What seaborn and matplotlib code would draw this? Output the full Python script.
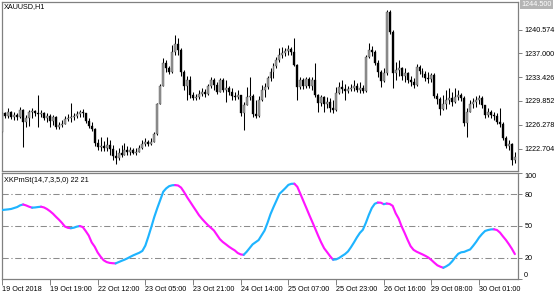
import numpy as np
import pandas as pd
import matplotlib
matplotlib.use("Agg")
import matplotlib.pyplot as plt
import seaborn as sns

# ---------------- data ----------------
symbol_title = "XAUUSD,H1"
indicator_title = "XKPmSt(14,7,3,5,0) 22 21"

open_ = [
1225.20,1228.05,1227.60,1228.20,1227.45,1227.75,1227.45,1228.50,1226.70,1227.30,
1228.20,1228.35,1228.05,1227.90,1228.05,1227.30,1227.60,1226.85,1227.45,1225.95,
1226.25,1226.40,1227.15,1227.30,1227.45,1227.60,1227.90,1228.20,1228.05,1226.85,
1226.10,1225.65,1223.55,1222.95,1223.10,1222.80,1223.25,1222.65,1221.60,1221.30,
1222.05,1221.75,1222.50,1222.20,1222.50,1222.05,1222.20,1222.80,1223.40,1223.70,
1223.40,1223.70,1224.90,1229.40,1232.10,1235.55,1234.80,1234.20,1237.20,1238.40,
1237.50,1234.20,1232.10,1233.00,1230.75,1230.30,1230.45,1230.90,1231.20,1230.90,
1232.10,1233.00,1232.25,1231.20,1233.00,1231.50,1231.80,1231.20,1230.60,1230.45,
1230.75,1228.05,1229.25,1230.45,1230.60,1227.90,1227.60,1230.00,1231.50,1231.95,
1233.30,1234.20,1235.10,1236.00,1236.75,1237.05,1237.35,1237.65,1237.20,1235.25,
1231.95,1233.00,1232.10,1233.15,1232.10,1233.00,1230.75,1229.55,1230.45,1229.40,
1229.70,1228.80,1228.50,1231.05,1231.95,1231.65,1231.35,1231.65,1231.80,1232.10,
1231.50,1231.80,1231.35,1236.45,1237.50,1237.20,1235.55,1234.20,1232.85,1234.05,
1243.20,1240.20,1234.05,1234.50,1234.80,1233.60,1234.05,1233.00,1232.70,1232.25,
1234.95,1234.35,1233.90,1233.30,1233.15,1233.75,1230.60,1230.15,1228.65,1229.40,
1230.00,1230.30,1229.70,1230.45,1230.75,1230.30,1226.55,1228.20,1229.40,1229.70,
1230.00,1230.30,1229.25,1227.75,1228.20,1227.75,1227.60,1226.70,1226.40,1224.30,
1223.10,1223.40,1221.00]

high = [
1228.80,1228.20,1228.80,1228.35,1228.20,1228.05,1228.95,1228.65,1227.75,1228.50,
1228.80,1228.50,1230.75,1228.50,1228.20,1228.05,1227.90,1227.75,1227.60,1226.70,
1227.00,1227.60,1227.90,1229.55,1228.05,1228.35,1228.50,1228.65,1228.05,1227.30,
1226.70,1225.80,1224.15,1224.45,1223.85,1224.45,1224.00,1223.25,1222.50,1222.80,
1223.25,1223.55,1223.10,1222.95,1222.80,1222.80,1223.25,1224.00,1224.30,1224.00,
1224.30,1225.20,1229.55,1232.40,1236.30,1236.00,1235.10,1238.25,1239.75,1239.30,
1237.80,1234.50,1233.60,1233.60,1231.20,1230.90,1231.50,1231.80,1231.65,1232.40,
1233.45,1233.30,1232.70,1233.30,1233.30,1233.00,1232.10,1231.80,1231.20,1231.50,
1230.75,1229.70,1231.95,1233.45,1230.90,1230.00,1230.60,1232.25,1232.55,1233.60,
1234.80,1235.55,1236.45,1237.80,1237.95,1237.80,1238.25,1237.95,1239.30,1235.40,
1233.45,1233.30,1233.45,1233.45,1233.45,1235.55,1230.90,1230.75,1230.60,1230.45,
1230.30,1230.00,1231.95,1232.70,1233.00,1232.40,1232.10,1232.40,1233.00,1232.55,
1232.70,1232.25,1236.75,1238.55,1238.10,1237.50,1236.00,1234.50,1234.80,1243.50,
1243.50,1240.50,1235.70,1236.00,1234.95,1234.80,1234.20,1233.60,1233.30,1235.40,
1235.25,1234.80,1234.35,1234.20,1234.05,1234.05,1231.05,1230.45,1230.75,1231.50,
1231.80,1231.20,1231.80,1231.50,1231.05,1230.60,1228.80,1230.00,1230.30,1230.60,
1230.75,1230.60,1229.25,1228.80,1228.50,1228.20,1228.05,1228.80,1226.70,1224.60,
1224.00,1223.55,1222.20]

low = [
1225.05,1227.30,1227.30,1227.15,1227.00,1227.00,1227.30,1222.95,1225.95,1226.10,
1227.30,1227.60,1225.95,1227.45,1227.00,1226.70,1225.95,1226.25,1225.65,1225.65,
1225.95,1226.40,1226.85,1226.70,1227.00,1227.30,1227.45,1227.45,1226.55,1225.80,
1225.35,1223.10,1222.50,1222.35,1222.35,1222.35,1221.75,1221.00,1220.40,1221.00,
1221.45,1221.75,1221.75,1221.75,1221.90,1221.75,1222.20,1222.65,1223.10,1223.10,
1223.25,1223.70,1224.75,1229.40,1232.10,1234.20,1233.90,1234.05,1236.75,1236.75,
1233.60,1231.50,1230.00,1230.30,1230.00,1230.00,1230.15,1230.60,1230.45,1230.75,
1231.80,1231.50,1230.90,1231.20,1231.20,1229.70,1230.75,1230.00,1230.00,1230.15,
1227.60,1225.50,1229.25,1230.00,1227.45,1227.30,1227.45,1229.85,1230.45,1231.65,
1232.85,1233.30,1234.80,1235.70,1236.30,1236.60,1236.75,1236.75,1235.10,1230.00,
1231.65,1231.65,1231.80,1231.80,1231.50,1230.45,1228.20,1229.10,1228.20,1228.80,
1228.20,1228.05,1228.35,1230.90,1231.05,1230.00,1231.05,1231.35,1231.35,1231.20,
1231.05,1231.05,1231.20,1236.30,1236.60,1235.25,1233.45,1231.95,1232.70,1233.75,
1239.90,1231.80,1233.00,1233.60,1233.00,1232.70,1232.55,1232.10,1231.80,1232.10,
1233.90,1233.45,1232.85,1232.55,1232.70,1230.30,1229.40,1227.75,1228.50,1228.65,
1229.40,1229.10,1229.55,1230.00,1229.85,1226.10,1224.45,1228.20,1228.80,1228.95,
1229.40,1228.80,1227.30,1227.45,1227.30,1227.00,1226.40,1225.95,1224.00,1222.80,
1222.50,1220.25,1220.55]

close = [
1228.05,1227.60,1228.20,1227.45,1227.75,1227.45,1228.50,1226.70,1227.30,1228.20,
1228.35,1228.05,1227.90,1228.05,1227.30,1227.60,1226.85,1227.45,1225.95,1226.25,
1226.40,1227.15,1227.30,1227.45,1227.60,1227.90,1228.20,1228.05,1226.85,1226.10,
1225.65,1223.55,1222.95,1223.10,1222.80,1223.25,1222.65,1221.60,1221.30,1222.05,
1221.75,1222.50,1222.20,1222.50,1222.05,1222.20,1222.80,1223.40,1223.70,1223.40,
1223.70,1224.90,1229.40,1232.10,1235.55,1234.80,1234.20,1237.20,1238.40,1237.50,
1234.20,1232.10,1233.00,1230.75,1230.30,1230.45,1230.90,1231.20,1230.90,1232.10,
1233.00,1232.25,1231.20,1233.00,1231.50,1231.80,1231.20,1230.60,1230.45,1230.75,
1228.05,1229.25,1230.45,1230.60,1227.90,1227.60,1230.00,1231.50,1231.95,1233.30,
1234.20,1235.10,1236.00,1236.75,1237.05,1237.35,1237.65,1237.20,1235.25,1231.95,
1233.00,1232.10,1233.15,1232.10,1233.00,1230.75,1229.55,1230.45,1229.40,1229.70,
1228.80,1228.50,1231.05,1231.95,1231.65,1231.35,1231.65,1231.80,1232.10,1231.50,
1231.80,1231.35,1236.45,1237.50,1237.20,1235.55,1234.20,1232.85,1234.05,1243.20,
1240.20,1234.05,1234.50,1234.80,1233.60,1234.05,1233.00,1232.70,1232.25,1234.95,
1234.35,1233.90,1233.30,1233.15,1233.75,1230.60,1230.15,1228.65,1229.40,1230.00,
1230.30,1229.70,1230.45,1230.75,1230.30,1226.55,1228.20,1229.40,1229.70,1230.00,
1230.30,1229.25,1227.75,1228.20,1227.75,1227.60,1226.70,1226.40,1224.30,1223.10,
1223.40,1221.00,1221.45]

indicator = [
65.1,65.4,65.7,66.1,67.0,67.9,69.5,70.3,69.4,68.2,
67.3,67.5,67.9,68.2,67.5,66.0,64.0,61.6,58.7,56.0,
53.0,49.5,48.3,47.9,48.4,49.4,50.0,49.0,45.2,41.0,
34.5,30.5,25.0,21.0,17.7,16.0,15.2,14.9,14.7,15.9,
17.1,18.2,19.5,21.0,22.4,23.6,24.8,26.5,31.5,39.9,
49.0,58.5,66.8,74.5,82.3,85.5,87.6,88.4,88.6,88.2,
86.2,82.0,77.2,73.0,68.7,64.5,60.2,56.8,53.7,50.8,
48.3,45.8,41.7,37.6,34.9,32.8,30.6,28.7,27.0,24.5,
23.2,22.8,25.7,29.2,32.7,34.7,36.7,41.2,45.7,53.0,
61.2,67.8,74.0,80.3,83.0,85.8,88.8,89.8,89.9,87.0,
80.5,73.8,67.2,60.5,54.0,47.5,40.8,34.5,29.0,25.3,
21.5,18.2,18.5,19.8,21.7,23.5,26.0,30.0,34.5,39.3,
43.5,46.5,53.0,60.5,67.0,71.0,72.1,72.0,70.6,71.2,
70.8,69.0,62.0,57.0,49.6,43.5,37.0,31.0,27.5,25.8,
24.5,23.2,21.8,20.2,17.9,15.3,12.9,11.6,10.6,12.0,
13.8,16.8,20.5,23.8,25.2,25.6,26.8,27.9,31.3,35.0,
39.2,42.5,45.3,46.2,46.8,46.9,46.2,43.8,40.2,36.8,
32.8,28.5,23.5]

time_labels = ["19 Oct 2018", "19 Oct 19:00", "22 Oct 12:00", "23 Oct 05:00",
               "23 Oct 21:00", "24 Oct 14:00", "25 Oct 07:00", "25 Oct 23:00",
               "26 Oct 16:00", "29 Oct 08:00", "30 Oct 01:00"]
time_label_bars = [0, 16, 32, 48, 64, 80, 96, 112, 128, 144, 160]

price_ticks = [1240.574, 1237.000, 1233.426, 1229.852, 1226.278, 1222.704]
price_top_label = "1244.500"
level_values = [80, 50, 20]
ind_ticks = [100, 80, 50, 20, 0]

# ---------------- styling ----------------
sns.set_theme(style="white")
plt.rcParams["font.family"] = ["Liberation Sans", "DejaVu Sans"]

W, H = 560, 294
fig = plt.figure(figsize=(W / 100, H / 100), dpi=100)
fig.patch.set_facecolor("white")


def rect(l, t, r, b):
    return [l / W, 1 - b / H, (r - l) / W, (b - t) / H]


ax1 = fig.add_axes(rect(2, 2, 518, 171))
ax2 = fig.add_axes(rect(2, 173, 518, 279))

FRAME = "#808080"
FS = 5.2
CYAN = "#1eb4ff"
MAGENTA = "#ff14ff"

n = len(close)
bars = np.arange(n)
df = pd.DataFrame({"bar": bars, "open": open_, "high": high,
                   "low": low, "close": close, "ind": indicator})

# ---------------- price pane (candles) ----------------
ax1.vlines(df["bar"], df["low"], df["high"], color="black", lw=0.75, zorder=2)
up = df["close"] >= df["open"]
ax1.bar(df.loc[up, "bar"], (df.loc[up, "close"] - df.loc[up, "open"]),
        bottom=df.loc[up, "open"], width=0.66, color="#9a9a9a",
        edgecolor="#3a3a3a", linewidth=0.25, zorder=3)
ax1.bar(df.loc[~up, "bar"], (df.loc[~up, "close"] - df.loc[~up, "open"]),
        bottom=df.loc[~up, "open"], width=0.66, color="black",
        edgecolor="black", linewidth=0.25, zorder=3)

xmin, xmax = -0.1, 173.05
ax1.set_xlim(xmin, xmax)
ax1.set_ylim(1219.35, 1244.70)
ax1.set_xticks([])
ax1.yaxis.tick_right()
ax1.set_yticks(price_ticks)
ax1.set_yticklabels([f"{v:.3f}" for v in price_ticks])
ax1.tick_params(axis="y", which="both", right=True, left=False, length=3,
                width=0.7, color=FRAME, pad=1.5, labelsize=FS, labelcolor="black")
ax1.text(4 / 516 * 0 + 0.004, 1 - 5 / 169, symbol_title, transform=ax1.transAxes,
         fontsize=FS, ha="left", va="center", color="black")
ax1.text(1.006, 0.985, price_top_label, transform=ax1.transAxes, fontsize=FS,
         ha="left", va="center", color="white",
         bbox=dict(boxstyle="square,pad=0.15", fc="#b4b4b4", ec="none"))

# ---------------- indicator pane ----------------
vals = df["ind"].to_numpy()
rising = np.diff(vals) >= 0
start = 0
for j in range(1, len(rising) + 1):
    if j == len(rising) or rising[j] != rising[start]:
        seg = df.iloc[start:j + 1]
        sns.lineplot(data=seg, x="bar", y="ind", ax=ax2,
                     color=CYAN if rising[start] else MAGENTA,
                     lw=1.55, estimator=None, sort=False, legend=False,
                     solid_capstyle="round", zorder=3)
        start = j

for lv in level_values:
    ax2.axhline(lv, color="#8c8c8c", lw=0.75, ls=(0, (6, 2.5, 1.2, 2.5)), zorder=1)

ax2.set_xlim(xmin, xmax)
ax2.set_ylim(0, 100)
ax2.set_xlabel("")
ax2.set_ylabel("")
ax2.yaxis.tick_right()
ax2.set_yticks(ind_ticks)
ax2.set_yticklabels([str(v) for v in ind_ticks])
ax2.tick_params(axis="y", right=True, left=False, length=3, width=0.7,
                color=FRAME, pad=1.5, labelsize=FS, labelcolor="black")
ylabels = ax2.get_yticklabels()
ylabels[0].set_va("top")
ylabels[-1].set_va("bottom")

ax2.set_xticks(time_label_bars)
ax2.set_xticklabels(time_labels)
ax2.tick_params(axis="x", bottom=True, length=4, width=0.7, color=FRAME,
                pad=1, labelsize=FS, labelcolor="black")
for t in ax2.get_xticklabels():
    t.set_ha("left")
ax2.text(0.004, 1 - 8 / 106, indicator_title, transform=ax2.transAxes,
         fontsize=FS, ha="left", va="center", color="black")

for ax in (ax1, ax2):
    ax.set_facecolor("white")
    for side, sp in ax.spines.items():
        sp.set_visible(True)
        sp.set_color(FRAME)
        sp.set_linewidth(0.9)

fig.savefig("out.png", dpi=100, facecolor="white")
